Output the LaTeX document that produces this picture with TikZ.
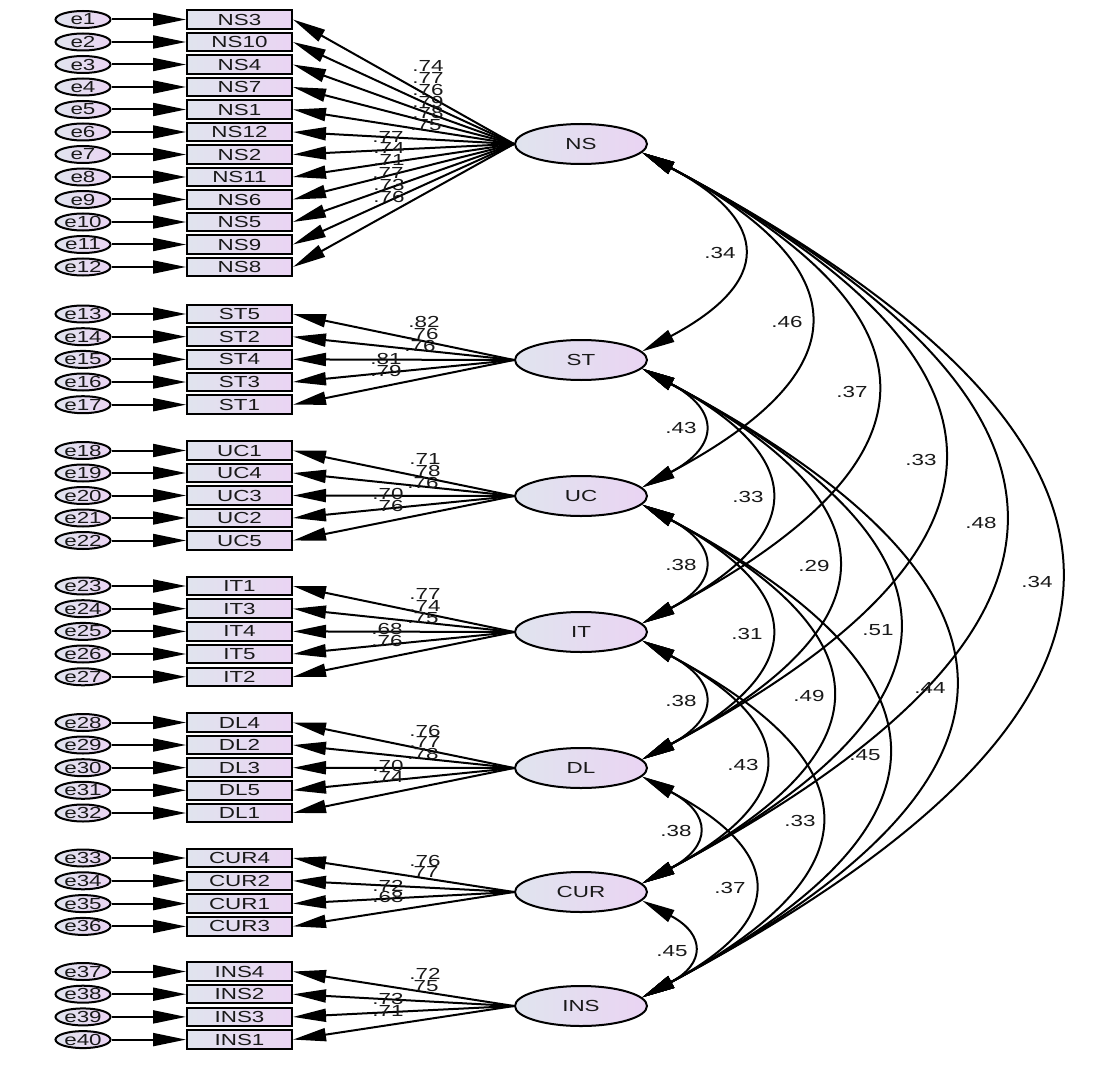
\documentclass[tikz,border=0pt]{standalone}
\usepackage{fontspec}
\setmainfont{Liberation Sans}[FakeStretch=1.4]
\usetikzlibrary{arrows.meta,shapes.geometric}
\definecolor{fillL}{RGB}{224,228,238}
\definecolor{fillR}{RGB}{234,212,243}
\definecolor{txt}{RGB}{25,25,25}
\begin{document}
\begin{tikzpicture}[x=1pt,y=1pt,
  every node/.style={font=\fontsize{16}{16}\selectfont, text=txt},
  errv/.style={ellipse, draw, line width=2pt, minimum width=55pt, minimum height=17pt, inner sep=0pt, left color=fillL, right color=fillR},
  obsv/.style={rectangle, draw, line width=2pt, minimum width=105pt, minimum height=18.5pt, inner sep=0pt, left color=fillL, right color=fillR},
  latv/.style={ellipse, draw, line width=2pt, minimum width=132pt, minimum height=40pt, inner sep=0pt, left color=fillL, right color=fillR},
  conn/.style={line width=2pt, -{Triangle[length=33pt,width=13pt]}},
  cov/.style={line width=2pt, {Triangle[length=33pt,width=13pt]}-{Triangle[length=33pt,width=13pt]}, out=-28, in=28, looseness=1.9},
  lab/.style={inner sep=0pt}
]
\useasboundingbox (0,0) rectangle (1102,-1091);
% latent variables
\foreach \nm/\yy in {NS/144,ST/360,UC/496,IT/632,DL/768,CUR/892,INS/1006}{
  \node[latv] (\nm) at (581,-\yy) {\nm};
}
% indicators, errors, loadings
\foreach \ei/\nm/\yy/\lt/\val/\lx/\ly in {
1/NS3/19.5/NS/.74/428/66,
2/NS10/42/NS/.77/428/78,
3/NS4/64.5/NS/.76/428/90,
4/NS7/87/NS/.79/428/102,
5/NS1/109.5/NS/.78/428/113,
6/NS12/132/NS/.75/426/125,
7/NS2/154.5/NS/.77/388/137,
8/NS11/177/NS/.74/389/148,
9/NS6/199.5/NS/.71/389/160,
10/NS5/222/NS/.77/388/173,
11/NS9/244.5/NS/.73/389/185,
12/NS8/267/NS/.76/389/197,
13/ST5/314/ST/.82/424/322,
14/ST2/336.7/ST/.76/423/334,
15/ST4/359.4/ST/.76/420/346,
16/ST3/382/ST/.81/386/359,
17/ST1/404.7/ST/.79/386/371,
18/UC1/450.5/UC/.71/425/459,
19/UC4/473/UC/.78/425/471,
20/UC3/495.5/UC/.76/423/483,
21/UC2/518/UC/.70/388/494,
22/UC5/540.5/UC/.76/388/506,
23/IT1/586/IT/.77/425/594,
24/IT3/608.7/IT/.74/425/606,
25/IT4/631.4/IT/.75/423/618,
26/IT5/654/IT/.68/387/629,
27/IT2/676.8/IT/.76/387/641,
28/DL4/722.5/DL/.76/425/731,
29/DL2/745/DL/.77/425/742,
30/DL3/767.7/DL/.78/423/754,
31/DL5/790.3/DL/.70/388/766,
32/DL1/813/DL/.74/388/777,
33/CUR4/858/CUR/.76/425/861,
34/CUR2/880.8/CUR/.77/423/872,
35/CUR1/903.6/CUR/.72/388/886,
36/CUR3/926.4/CUR/.68/388/897,
37/INS4/971.5/INS/.72/425/974,
38/INS2/994.2/INS/.75/423/986,
39/INS3/1016.9/INS/.73/388/999,
40/INS1/1039.6/INS/.71/388/1011}{
  \node[obsv] (\nm) at (239.5,-\yy) {\nm};
  \node[errv] (e\ei) at (83,-\yy) {e\ei};
  \draw[conn] (e\ei) -- (\nm);
  \draw[conn] (\lt.west) -- (\nm.east);
  \node[lab] (l\ei) at (\lx,-\ly) {\val};
}
% covariances
\foreach \ua/\lb/\val/\lx/\ly in {
NS/ST/.34/720/253, NS/UC/.46/787/322, NS/IT/.37/852/392, NS/DL/.33/921/460,
NS/CUR/.48/981/523, NS/INS/.34/1037/582,
ST/UC/.43/681/428, ST/IT/.33/748/497, ST/DL/.29/814/566, ST/CUR/.51/878/630, ST/INS/.44/930/688,
UC/IT/.38/681/565, UC/DL/.31/747/634, UC/CUR/.49/809/696, UC/INS/.45/865/755,
IT/DL/.38/681/701, IT/CUR/.43/743/765, IT/INS/.33/800/821,
DL/CUR/.38/676/831, DL/INS/.37/730/888,
CUR/INS/.45/672/951}{
  \draw[cov] (\ua.-8) to (\lb.8);
  \node[lab] (c\ua\lb) at (\lx,-\ly) {\val};
}
\end{tikzpicture}
\end{document}
